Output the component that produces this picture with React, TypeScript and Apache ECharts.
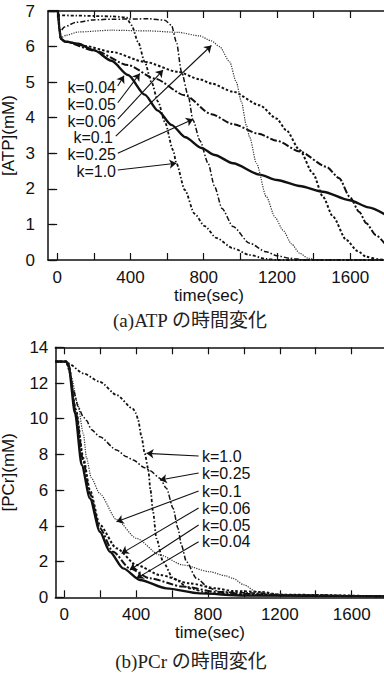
import React, { useEffect, useRef } from "react";
import * as echarts from "echarts";

// ---------- data ----------
const kNames = ["k=0.04", "k=0.05", "k=0.06", "k=0.1", "k=0.25", "k=1.0"];

const xTickValues = [0, 200, 400, 600, 800, 1000, 1200, 1400, 1600];
const xLabelValues = [0, 400, 800, 1200, 1600];

// ATP (mM) vs time (sec)
const atpK004 = [[-50,7],[5,7],[12,6.5],[20,6.22],[42,6.14],[115,6.08],[200,5.9],[297,5.6],[387,5.2],[478,4.65],[550,4.2],[624,3.8],[700,3.45],[788,3.15],[860,2.95],[960,2.72],[1106,2.4],[1200,2.25],[1324,2.08],[1450,1.92],[1597,1.68],[1700,1.48],[1790,1.28]];
const atpK005 = [[-50,7],[5,7],[12,6.5],[20,6.22],[42,6.14],[206,5.88],[387,5.48],[533,5.1],[697,4.63],[842,4.1],[960,3.82],[1100,3.55],[1200,3.35],[1324,3.05],[1470,2.62],[1540,2.3],[1597,1.78],[1650,1.35],[1688,1.03],[1740,0.7],[1790,0.45]];
const atpK006 = [[-50,7],[5,7],[12,6.5],[20,6.22],[42,6.15],[150,6.02],[297,5.85],[478,5.57],[660,5.29],[778,5.08],[842,4.96],[960,4.73],[1106,4.35],[1197,3.98],[1251,3.65],[1324,3.09],[1397,2.43],[1451,1.78],[1506,1.22],[1579,0.56],[1640,0.25],[1688,0.09],[1750,0.02],[1790,0]];
const atpK01 = [[-50,7],[5,7],[12,6.5],[20,6.25],[50,6.32],[115,6.41],[297,6.46],[500,6.44],[660,6.4],[778,6.3],[842,6.16],[887,6.0],[942,5.57],[978,5.0],[1006,4.45],[1033,3.79],[1051,3.45],[1088,2.72],[1142,1.78],[1190,1.2],[1233,0.84],[1280,0.45],[1324,0.19],[1370,0.05],[1420,0],[1790,0]];
const atpK025 = [[-50,7],[5,7],[10,6.5],[20,6.45],[40,6.55],[100,6.68],[200,6.75],[300,6.77],[500,6.78],[588,6.74],[624,6.6],[651,6.13],[679,5.29],[715,4.63],[742,3.93],[780,3.35],[824,2.72],[860,2.06],[900,1.45],[960,0.94],[1051,0.47],[1142,0.23],[1200,0.12],[1270,0.05],[1350,0],[1790,0]];
const atpK10 = [[-50,7],[0,7],[10,6.88],[100,6.87],[300,6.85],[378,6.82],[406,6.6],[442,6.13],[478,5.57],[515,5.0],[551,4.45],[588,3.88],[633,3.09],[651,2.72],[697,1.97],[750,1.3],[806,0.95],[869,0.62],[960,0.33],[1051,0.14],[1142,0.03],[1200,0],[1790,0]];

// PCr (mM) vs time (sec)
const pcrK004 = [[-50,13.2],[10,13.2],[22,13.1],[60,10.3],[97,7.41],[143,5.54],[198,3.67],[254,2.55],[328,1.62],[421,0.97],[569,0.5],[754,0.22],[1000,0.1],[1790,0.05]];
const pcrK005 = [[-50,13.2],[10,13.2],[25,12.9],[65,10.3],[106,7.6],[143,5.8],[198,3.86],[272,2.55],[365,1.62],[476,1.06],[661,0.6],[847,0.31],[1000,0.2],[1200,0.12],[1790,0.05]];
const pcrK006 = [[-50,13.2],[10,13.2],[25,12.9],[65,10.5],[106,7.8],[143,6.0],[198,4.05],[291,2.74],[402,1.81],[532,1.25],[698,0.78],[847,0.5],[939,0.35],[1100,0.3],[1200,0.15],[1790,0.05]];
const pcrK01 = [[-50,13.2],[10,13.2],[40,12.3],[75,10.8],[106,9.18],[124,7.8],[150,6.7],[198,5.8],[291,4.35],[402,3.3],[532,2.37],[661,1.81],[810,1.43],[900,1.2],[939,1.06],[1000,0.7],[1069,0.31],[1150,0.2],[1300,0.12],[1790,0.05]];
const pcrK025 = [[-50,13.2],[10,13.2],[30,12.6],[50,11.6],[80,10.6],[106,10.1],[124,9.9],[150,9.4],[198,8.99],[291,8.25],[347,7.87],[383,7.69],[448,7.25],[476,7.1],[532,6.67],[569,6.1],[606,4.98],[633,3.86],[652,2.93],[680,1.99],[736,1.06],[810,0.5],[865,0.31],[1000,0.25],[1100,0.22],[1200,0.12],[1790,0.05]];
const pcrK10 = [[-50,13.2],[10,13.2],[22,13.1],[106,12.54],[198,12.07],[291,11.33],[383,10.55],[400,10.3],[411,9.93],[430,8.99],[448,8.06],[467,7.2],[480,6.0],[494,4.8],[513,3.3],[550,1.99],[606,1.06],[698,0.5],[810,0.22],[1000,0.15],[1200,0.12],[1790,0.05]];

// annotation arrows (data coordinates: [time, value])
const atpArrowFrom = [[331,4.89],[331,4.42],[331,3.96],[320,3.48],[331,3.0],[331,2.53]];
const atpArrowTo = [[365,5.18],[451,5.24],[578,5.34],[842,6.03],[742,3.96],[651,2.72]];
const pcrArrowFrom = [[748,3.11],[748,4.05],[748,5.0],[748,5.95],[748,6.96],[748,7.91]];
const pcrArrowTo = [[402,1.06],[365,1.53],[319,2.46],[291,4.23],[532,6.57],[458,8.06]];

// ---------- styles ----------
const lineStyles = [
  { width: 2.4, type: "solid", color: "#111" },
  { width: 2, type: [7, 2, 2, 2], color: "#111" },
  { width: 2, type: [2.5, 2], color: "#111" },
  { width: 1.2, type: [1.2, 1.2], color: "#333" },
  { width: 1.5, type: [5, 2, 1.5, 2], color: "#111" },
  { width: 1.8, type: [3, 2, 1.5, 2], color: "#111" },
];

const FONT = "'Liberation Sans', Arial, Helvetica, sans-serif";
const SERIF = "'Liberation Serif', 'DejaVu Serif', 'Noto Sans CJK JP', serif";
const FS = 17;
const KFS = 16;

function makeSeries(datasets: number[][][], from: number[][], to: number[][], gi: number) {
  return datasets.map((d, i) => ({
    type: "line",
    name: kNames[i],
    xAxisIndex: gi * 2,
    yAxisIndex: gi * 2,
    data: d,
    showSymbol: false,
    symbol: "none",
    smooth: 0.25,
    smoothMonotone: "x",
    lineStyle: { ...lineStyles[i], cap: "butt" },
    silent: true,
    markLine: {
      silent: true,
      symbol: ["none", "arrow"],
      symbolSize: 7,
      label: { show: false },
      lineStyle: { color: "#111", width: 1.1, type: "solid" },
      data: [[{ coord: from[i] }, { coord: to[i] }]],
    },
  }));
}

function xAxes(gi: number) {
  const common = {
    type: "value",
    gridIndex: gi,
    min: -50,
    max: 1790,
    splitLine: { show: false },
    axisLine: { show: true, onZero: false, lineStyle: { color: "#111", width: 1.5 } },
    axisTick: { show: true, inside: true, length: 7, lineStyle: { color: "#111", width: 1.2 }, customValues: xTickValues },
  };
  return [
    {
      ...common,
      position: "bottom",
      axisLabel: { show: true, customValues: xLabelValues, formatter: (v: number) => String(v), fontSize: FS, fontFamily: FONT, color: "#111", margin: 9 },
    },
    { ...common, position: "top", axisLabel: { show: false } },
  ];
}

function yAxes(gi: number, max: number, interval: number, name: string, gap: number) {
  const common = {
    type: "value",
    gridIndex: gi,
    min: 0,
    max,
    interval,
    splitLine: { show: false },
    axisTick: { show: true, inside: true, length: 7, lineStyle: { color: "#111", width: 1.2 } },
  };
  return [
    {
      ...common,
      position: "left",
      axisLine: { show: true, onZero: false, lineStyle: { color: "#111", width: 1.5 } },
      axisLabel: { show: true, formatter: (v: number) => String(v), fontSize: FS, fontFamily: FONT, color: "#111", margin: gi === 0 ? 13 : 7 },
      name,
      nameLocation: "middle",
      nameGap: gap,
      nameMoveOverlap: false,
      nameTextStyle: { fontSize: FS, fontFamily: FONT, color: "#111" },
    },
    {
      ...common,
      position: "right",
      axisLine: { show: false },
      axisLabel: { show: false },
    },
  ];
}

function labelTexts(ys: number[], align: string, xAt: (i: number) => number) {
  return kNames.map((k, i) => ({
    type: "text",
    x: xAt(i),
    y: ys[i],
    silent: true,
    style: { text: k, fontSize: KFS, fontFamily: FONT, fill: "#111", align, verticalAlign: "middle" },
  }));
}

export default function App() {
  const ref = useRef<HTMLDivElement>(null);
  useEffect(() => {
    if (!ref.current) return;
    const chart = echarts.init(ref.current, null, { renderer: "svg" });
    const option: any = {
      animation: false,
      backgroundColor: "#fff",
      grid: [
        { left: 48, top: 11, width: 337, height: 249, containLabel: false, outerBoundsMode: "none" },
        { left: 55.3, top: 347.3, width: 330.5, height: 250, containLabel: false, outerBoundsMode: "none" },
      ],
      xAxis: [...xAxes(0), ...xAxes(1)],
      yAxis: [...yAxes(0, 7, 1, "[ATP](mM)", 31), ...yAxes(1, 14, 2, "[PCr](mM)", 38)],
      series: [
        ...makeSeries([atpK004, atpK005, atpK006, atpK01, atpK025, atpK10], atpArrowFrom, atpArrowTo, 0),
        ...makeSeries([pcrK004, pcrK005, pcrK006, pcrK01, pcrK025, pcrK10], pcrArrowFrom, pcrArrowTo, 1),
      ],
      graphic: [
        ...labelTexts([87.5, 104, 121, 137.7, 154.4, 171], "right", (i) => (i === 3 ? 113 : 116)),
        ...labelTexts([541.7, 525, 508, 491.5, 473, 456], "left", () => 202),
        { type: "text", x: 209, y: 295, silent: true, style: { text: "time(sec)", fontSize: FS, fontFamily: FONT, fill: "#111", align: "center", verticalAlign: "middle" } },
        { type: "text", x: 210, y: 632, silent: true, style: { text: "time(sec)", fontSize: FS, fontFamily: FONT, fill: "#111", align: "center", verticalAlign: "middle" } },
        { type: "text", x: 190, y: 320, silent: true, style: { text: "(a)ATP の時間変化", fontSize: 19, fontFamily: SERIF, fill: "#222", align: "center", verticalAlign: "middle" } },
        { type: "text", x: 191, y: 661, silent: true, style: { text: "(b)PCr の時間変化", fontSize: 19, fontFamily: SERIF, fill: "#222", align: "center", verticalAlign: "middle" } },
      ],
    };
    chart.setOption(option);
    return () => chart.dispose();
  }, []);
  return <div ref={ref} style={{ position: "absolute", left: 0, top: 0, width: 384, height: 674 }} />;
}
